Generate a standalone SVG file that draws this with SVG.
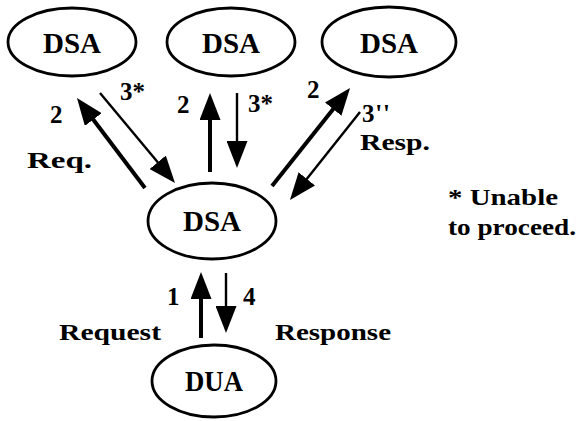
<svg xmlns="http://www.w3.org/2000/svg" width="579" height="421" viewBox="0 0 579 421">
<style>
.node ellipse{fill:#fff;stroke:#000;stroke-width:2.8}
text{font-family:'Liberation Serif',serif;font-weight:700;fill:#000}
.nt{font-size:29px;text-anchor:middle}
.lb{font-size:24px}
.num{font-size:25px}
.thick{stroke:#000;stroke-width:4;fill:none;marker-end:url(#ah)}
.thin{stroke:#000;stroke-width:2.4;fill:none;marker-end:url(#ah)}
</style>
<defs>
<marker id="ah" markerUnits="userSpaceOnUse" markerWidth="27" markerHeight="21" refX="17" refY="10.5" orient="auto">
<path d="M0,0 L27,10.5 L0,21 z" fill="#000"/>
</marker>
</defs>
<rect width="579" height="421" fill="#fff"/>
<g font-family="Liberation Serif, serif">
<g id="dsa-top-left" class="node"><ellipse cx="72" cy="42" rx="64" ry="34"/><text class="nt" x="72" y="53" textLength="58" lengthAdjust="spacingAndGlyphs">DSA</text></g>
<g id="dsa-top-mid" class="node"><ellipse cx="231" cy="42" rx="64" ry="34"/><text class="nt" x="231" y="53" textLength="58" lengthAdjust="spacingAndGlyphs">DSA</text></g>
<g id="dsa-top-right" class="node"><ellipse cx="389" cy="42" rx="67" ry="35"/><text class="nt" x="389" y="53" textLength="58" lengthAdjust="spacingAndGlyphs">DSA</text></g>
<g id="dsa-center" class="node"><ellipse cx="212" cy="221" rx="64" ry="38"/><text class="nt" x="212" y="231" textLength="58" lengthAdjust="spacingAndGlyphs">DSA</text></g>
<g id="dua" class="node"><ellipse cx="214" cy="381" rx="62" ry="36"/><text class="nt" x="214" y="391" textLength="58" lengthAdjust="spacingAndGlyphs">DUA</text></g>
<g id="connectors">
<line class="thick" x1="145" y1="188" x2="83" y2="106"/>
<line class="thin" x1="100" y1="93" x2="168.6" y2="175.3"/>
<line class="thick" x1="210" y1="172" x2="210" y2="103"/>
<line class="thin" x1="237" y1="93" x2="237" y2="158"/>
<line class="thick" x1="272" y1="186" x2="343.8" y2="95.8"/>
<line class="thin" x1="360" y1="112" x2="296.2" y2="192.2"/>
<line class="thick" x1="201" y1="338" x2="201" y2="282"/>
<line class="thin" x1="226" y1="273" x2="226" y2="323"/>
</g>
<g id="labels">
<text class="num" x="120" y="100">3*</text>
<text class="num" x="50" y="123">2</text>
<text class="lb" x="27" y="168" textLength="65" lengthAdjust="spacingAndGlyphs">Req.</text>
<text class="num" x="177" y="113">2</text>
<text class="num" x="248" y="112">3*</text>
<text class="num" x="307" y="98">2</text>
<text class="num" x="362" y="122" textLength="28" lengthAdjust="spacing">3''</text>
<text class="lb" x="360" y="150" textLength="70" lengthAdjust="spacingAndGlyphs">Resp.</text>
<text class="lb" x="448" y="205" textLength="110" lengthAdjust="spacingAndGlyphs">* Unable</text>
<text class="lb" x="448" y="235" textLength="128" lengthAdjust="spacingAndGlyphs">to proceed.</text>
<text class="lb" x="59" y="340" textLength="102" lengthAdjust="spacingAndGlyphs">Request</text>
<text class="num" x="167" y="305">1</text>
<text class="num" x="243" y="305">4</text>
<text class="lb" x="275" y="340" textLength="116" lengthAdjust="spacingAndGlyphs">Response</text>
</g>
</g>
</svg>
